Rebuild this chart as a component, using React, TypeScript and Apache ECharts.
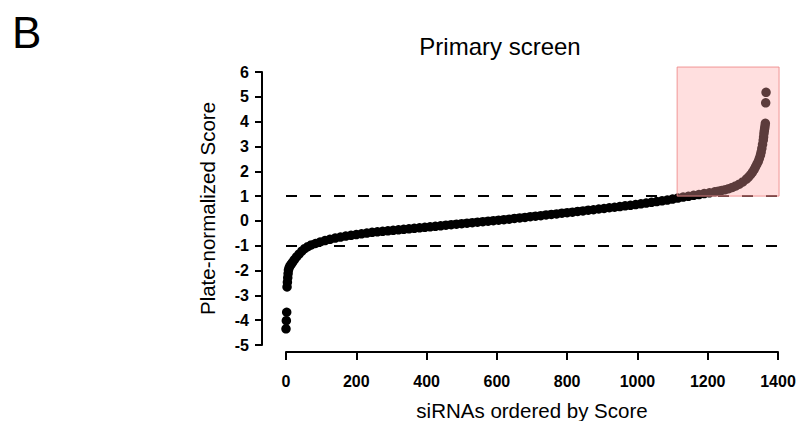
import React, { useEffect, useRef } from "react";
import * as echarts from "echarts";

// rank (x) and plate-normalized score (y)
const rankIdx: number[] = [
  0, 1, 2, 3, 4, 5, 6, 7, 9, 12, 15, 19, 24, 30, 37, 45, 53, 62, 72, 84, 97, 111, 125, 140, 155, 170, 185, 200, 215, 230, 245,
  260, 275, 290, 305, 320, 335, 350, 365, 380, 395, 410, 425, 440, 455, 470, 485, 500, 515, 530, 545, 560, 575, 590, 605, 620,
  635, 650, 665, 680, 695, 710, 725, 740, 755, 770, 785, 800, 815, 830, 845, 860, 875, 890, 905, 920, 935, 950, 965, 980, 995,
  1010, 1025, 1040, 1055, 1070, 1085, 1100, 1115, 1130, 1145, 1160, 1175, 1190, 1205,
  1220, 1230, 1240, 1250, 1260, 1270, 1280, 1290, 1300, 1310, 1316, 1322, 1327, 1332, 1336, 1340, 1344, 1347, 1350, 1352,
  1354, 1356, 1358, 1359, 1360, 1361, 1362, 1363, 1364, 1365, 1366,
];
const scores: number[] = [
  -4.35, -4.02, -3.68, -2.66, -2.47, -2.29, -2.12, -1.98, -1.88, -1.8, -1.74, -1.66, -1.56, -1.45, -1.34, -1.22, -1.12, -1.04,
  -0.97, -0.91, -0.85, -0.79, -0.74, -0.69, -0.65, -0.61, -0.58, -0.55, -0.52, -0.49, -0.46,
  -0.44, -0.42, -0.4, -0.38, -0.36, -0.34, -0.32, -0.3, -0.28, -0.26, -0.24, -0.22, -0.2, -0.17, -0.15, -0.13, -0.11, -0.09,
  -0.07, -0.05, -0.03, -0.01, 0.01, 0.03, 0.05, 0.07, 0.1, 0.12, 0.14, 0.17, 0.19, 0.21, 0.24, 0.26, 0.28, 0.31, 0.33, 0.35,
  0.38, 0.4, 0.43, 0.45, 0.48, 0.5, 0.53, 0.55, 0.58, 0.61, 0.63, 0.66, 0.69, 0.72, 0.75, 0.78, 0.81, 0.84, 0.88, 0.92, 0.96,
  0.99, 1.03, 1.06, 1.1, 1.13,
  1.17, 1.2, 1.23, 1.26, 1.3, 1.35, 1.41, 1.48, 1.57, 1.68, 1.76, 1.86, 1.96, 2.07, 2.18, 2.29, 2.4, 2.52, 2.65, 2.77,
  2.92, 3.08, 3.25, 3.38, 3.52, 3.63, 3.72, 3.82, 3.93, 4.76, 5.18,
];
const thresholds: number[] = [1, -1];
const hitBoxX: number[] = [1113, 1403];
const hitBoxY: number[] = [1.0, 6.2];

const FONT = "Liberation Sans, Arial, sans-serif";

export default function App() {
  const ref = useRef<HTMLDivElement>(null);
  useEffect(() => {
    if (!ref.current) return;
    const chart = echarts.init(ref.current, undefined, { renderer: "svg" });
    const points = rankIdx.map((x, i) => [x, scores[i]]);
    chart.setOption({
      animation: false,
      backgroundColor: "#ffffff",
      textStyle: { fontFamily: FONT },
      graphic: [
        {
          type: "text",
          left: 12,
          top: 10,
          style: { text: "B", fontSize: 44, fontFamily: FONT, fill: "#000" },
        },
        {
          type: "text",
          x: 500,
          y: 46,
          style: {
            text: "Primary screen",
            fontSize: 24,
            fontFamily: FONT,
            fill: "#000",
            textAlign: "center",
            textVerticalAlign: "middle",
          },
        },
      ],
      grid: {
        left: 286,
        top: 72,
        width: 492,
        height: 273,
        containLabel: false,
        outerBoundsMode: "none",
      },
      xAxis: {
        type: "value",
        min: 0,
        max: 1400,
        interval: 200,
        offset: 7,
        name: "siRNAs ordered by Score",
        nameLocation: "middle",
        nameGap: 48,
        nameTextStyle: { fontSize: 20.5, color: "#000", fontFamily: FONT },
        axisLine: { show: true, onZero: false, lineStyle: { color: "#000", width: 2 } },
        axisTick: { show: true, length: 8, lineStyle: { color: "#000", width: 2 } },
        axisLabel: {
          margin: 21,
          fontSize: 16,
          fontWeight: "bold",
          color: "#000",
          fontFamily: FONT,
          formatter: (v: number) => String(v),
        },
        splitLine: { show: false },
      },
      yAxis: {
        type: "value",
        min: -5,
        max: 6,
        interval: 1,
        offset: 24,
        name: "Plate-normalized Score",
        nameLocation: "middle",
        nameGap: 44,
        nameTextStyle: { fontSize: 20.5, color: "#000", fontFamily: FONT },
        axisLine: { show: true, onZero: false, lineStyle: { color: "#000", width: 2 } },
        axisTick: { show: true, length: 7, lineStyle: { color: "#000", width: 2 } },
        axisLabel: {
          margin: 13,
          fontSize: 16,
          fontWeight: "bold",
          color: "#000",
          fontFamily: FONT,
          formatter: (v: number) => String(v),
        },
        splitLine: { show: false },
      },
      series: [
        {
          type: "scatter",
          data: points,
          symbol: "circle",
          symbolSize: 9.5,
          itemStyle: { color: "#000", opacity: 1 },
          z: 2,
          markLine: {
            silent: true,
            symbol: ["none", "none"],
            label: { show: false },
            lineStyle: { color: "#000", width: 2, type: [11, 13] },
            data: thresholds.map((t) => ({ yAxis: t })),
          },
        },
        {
          type: "custom",
          clip: false,
          silent: true,
          z: 10,
          data: [[hitBoxX[0], hitBoxY[0], hitBoxX[1], hitBoxY[1]]],
          renderItem: (params: any, api: any) => {
            const p0 = api.coord([api.value(0), api.value(1)]);
            const p1 = api.coord([api.value(2), api.value(3)]);
            return {
              type: "rect",
              shape: { x: p0[0], y: p1[1], width: p1[0] - p0[0], height: p0[1] - p1[1] },
              style: { fill: "rgba(255,165,165,0.36)", stroke: "rgba(240,140,140,0.9)", lineWidth: 1 },
            };
          },
        },
      ],
    });
    return () => chart.dispose();
  }, []);
  return (
    <div
      ref={ref}
      style={{ position: "absolute", left: 0, top: 0, width: 799, height: 421 }}
    />
  );
}
